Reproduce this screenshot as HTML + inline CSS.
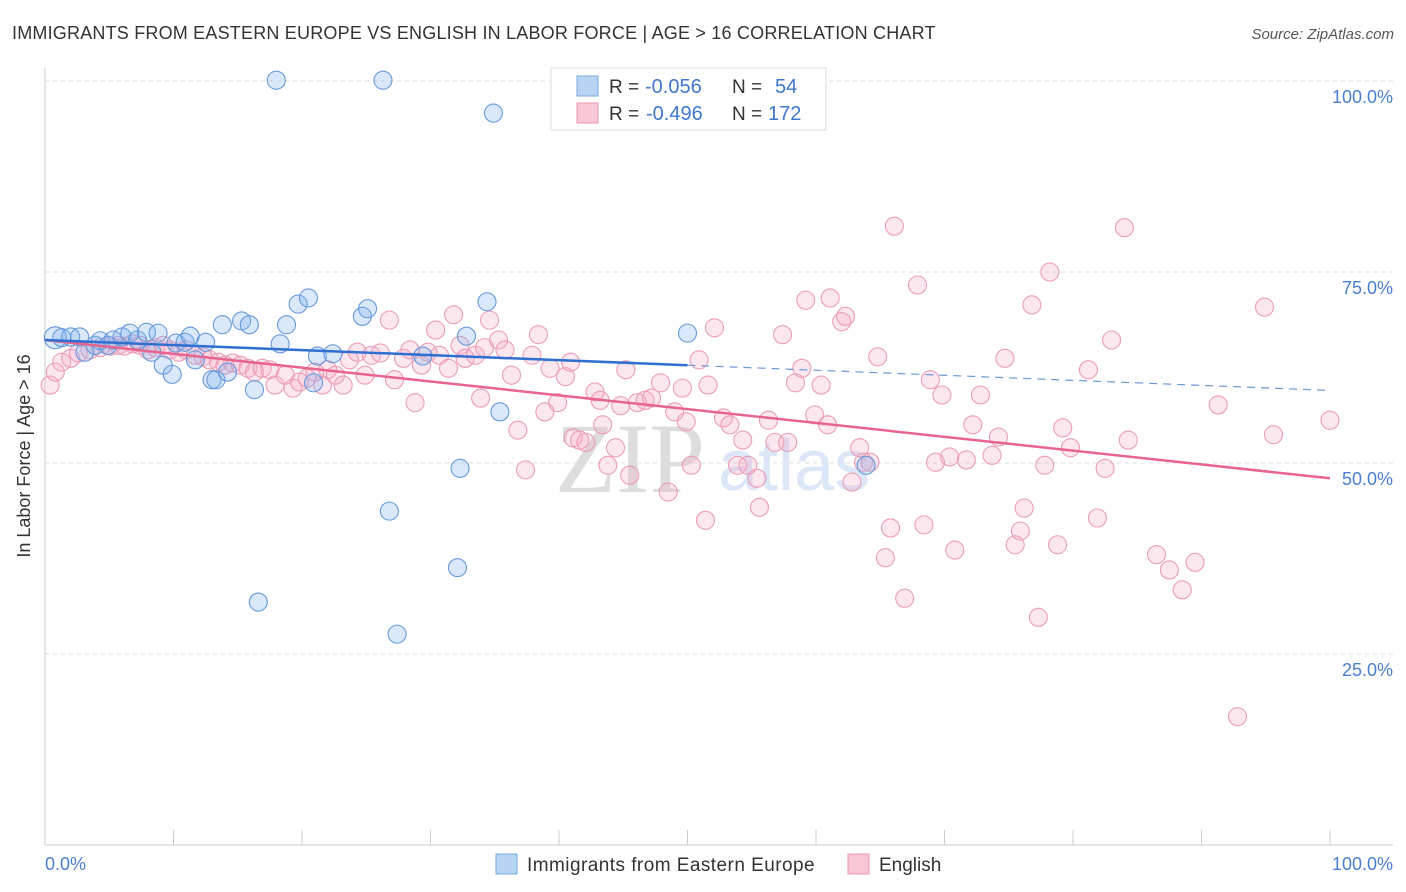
<!DOCTYPE html>
<html><head><meta charset="utf-8">
<style>
body{margin:0;background:#fff;font-family:"Liberation Sans",sans-serif;}
#wrap{position:relative;width:1406px;height:892px;overflow:hidden;}
</style></head>
<body>
<div id="wrap">
<svg id="chart" width="1406" height="892" xmlns="http://www.w3.org/2000/svg">
<text x="12" y="39" font-size="18" fill="#333" letter-spacing="0.2">IMMIGRANTS FROM EASTERN EUROPE VS ENGLISH IN LABOR FORCE | AGE &gt; 16 CORRELATION CHART</text>
<text x="1394" y="39" font-size="15" fill="#555" font-style="italic" text-anchor="end">Source: ZipAtlas.com</text>
<g id="grid"></g>
<text x="555" y="492" font-size="100" fill="#ddd" font-family="Liberation Serif">ZIP</text>
<text x="718" y="490" font-size="72" fill="#dbe7f7">atlas</text>
<line x1="45" y1="68" x2="45" y2="845" stroke="#ccc"/>
<line x1="45" y1="845" x2="1393" y2="845" stroke="#ccc"/>
<g id="ticks"></g>
<g id="ylabels"></g>
<g id="pink"></g>
<g id="blue"></g>
<g id="trends"></g>
<text x="30" y="456" font-size="18" fill="#333" text-anchor="middle" transform="rotate(-90 30 456)">In Labor Force | Age &gt; 16</text>
<text x="45" y="870" font-size="18" fill="#4a7fd0">0.0%</text>
<text x="1393" y="870" font-size="18" fill="#4a7fd0" text-anchor="end">100.0%</text>
<g>
<rect x="551" y="68" width="275" height="62" fill="#fff" stroke="#ddd"/>
<rect x="577" y="76" width="21" height="20" fill="#b9d3f3" stroke="#7aa8e0"/>
<rect x="577" y="103" width="21" height="20" fill="#f9c6d5" stroke="#eb97b1"/>
<text x="609" y="93" font-size="19" fill="#333">R =</text>
<text x="645" y="93" font-size="20" fill="#3f77cc">-0.056</text>
<text x="732" y="93" font-size="19" fill="#333">N =</text>
<text x="775" y="93" font-size="20" fill="#3f77cc">54</text>
<text x="609" y="120" font-size="19" fill="#333">R =</text>
<text x="646" y="120" font-size="20" fill="#3f77cc">-0.496</text>
<text x="732" y="120" font-size="19" fill="#333">N =</text>
<text x="768" y="120" font-size="20" fill="#3f77cc">172</text>
</g>
<g>
<rect x="496" y="854" width="21" height="20" fill="#b9d3f3" stroke="#7aa8e0"/>
<text x="527" y="871" font-size="19" fill="#333" letter-spacing="0.45">Immigrants from Eastern Europe</text>
<rect x="848" y="854" width="21" height="20" fill="#f9c6d5" stroke="#eb97b1"/>
<text x="879" y="871" font-size="19" fill="#333">English</text>
</g>
</svg>
</div>
<script>
const yTicks=[25,50,75,100];
const yTickLabels=["25.0%","50.0%","75.0%","100.0%"];
const xTicks=[0,10,20,30,40,50,60,70,80,90,100];
const blueX=[0.8,1.3,2.0,2.7,3.1,3.9,4.3,4.9,5.3,6.0,6.6,7.2,7.9,8.3,8.8,9.2,9.9,10.2,10.9,11.3,11.7,12.5,13.0,13.3,13.8,14.2,15.3,15.9,16.3,16.6,18.0,18.3,18.8,19.7,20.5,20.9,21.2,22.4,24.7,25.1,26.3,26.8,27.4,29.4,32.1,32.3,32.8,34.4,34.9,35.4,50.0,63.9];
const blueY=[66.4,66.4,66.5,66.5,64.5,65.4,66.0,65.4,66.1,66.5,67.0,66.1,67.1,64.5,67.0,62.8,61.6,65.7,65.8,66.6,63.5,65.8,60.9,60.9,68.1,61.9,68.6,68.1,59.6,31.8,100.1,65.6,68.1,70.8,71.6,60.5,64.0,64.3,69.2,70.2,100.1,43.7,27.6,64.0,36.3,49.3,66.6,71.1,95.8,56.7,67.0,49.7];
const pinkX=[0.4,0.8,1.3,2.0,2.6,3.5,4.3,5.1,5.7,6.2,6.8,7.4,8.0,8.6,9.2,9.7,10.4,11.0,11.7,12.3,12.8,13.5,14.0,14.6,15.2,15.8,16.3,16.9,17.5,17.9,18.7,19.3,19.8,20.4,21.0,21.6,22.0,22.6,23.2,23.7,24.3,24.9,25.4,26.1,26.8,27.2,27.9,28.4,28.8,29.3,29.8,30.4,30.7,31.4,31.8,32.3,32.7,33.5,33.9,34.2,34.6,35.3,35.8,36.3,36.8,37.4,37.9,38.4,38.9,39.3,39.9,40.5,40.9,41.1,41.6,42.1,42.8,43.2,43.4,43.8,44.4,44.8,45.2,45.5,46.1,46.7,47.2,47.9,48.5,49.0,49.6,49.9,50.3,50.9,51.4,51.6,52.1,52.8,53.3,53.9,54.3,54.7,55.4,55.6,56.3,56.8,57.4,57.8,58.4,58.9,59.2,59.9,60.4,60.9,61.1,62.0,62.3,62.8,63.4,63.7,64.2,64.8,65.4,65.8,66.1,66.9,67.9,68.4,68.9,69.3,69.8,70.4,70.8,71.7,72.2,72.8,73.7,74.2,74.7,75.5,75.9,76.2,76.8,77.3,77.8,78.2,78.8,79.2,79.8,81.2,81.9,82.5,83.0,84.0,84.3,86.5,87.5,88.5,89.5,91.3,92.8,94.9,95.6,100];
const pinkY=[60.2,61.9,63.2,63.7,64.4,64.8,65.1,65.3,65.4,65.3,65.6,65.4,64.8,65.1,65.4,64.8,64.5,64.8,64.1,63.9,63.5,63.2,62.8,63.1,62.8,62.4,61.9,62.4,62.2,60.2,61.5,59.8,60.6,61.1,61.9,60.2,62.2,61.5,60.2,63.5,64.5,61.5,64.1,64.4,68.7,60.9,63.7,64.8,57.9,62.8,64.5,67.4,64.1,62.4,69.4,65.4,63.7,64.1,58.5,65.1,68.7,66.1,64.8,61.5,54.3,49.1,64.1,66.8,56.7,62.4,57.9,61.3,63.2,53.3,53.0,52.7,59.3,58.2,55.0,49.7,52.0,57.5,62.2,48.4,57.9,58.2,58.5,60.5,46.2,56.7,59.8,55.4,49.7,63.5,42.5,60.2,67.7,55.9,55.0,49.7,53.0,49.7,48.0,44.2,55.6,52.7,66.8,52.7,60.5,62.4,71.3,56.3,60.2,55.0,71.6,68.5,69.2,47.5,52.0,50.1,50.1,63.9,37.6,41.5,81.0,32.3,73.3,41.9,60.9,50.1,58.9,50.8,38.6,50.4,55.0,58.9,51.0,53.4,63.7,39.3,41.1,44.1,70.7,29.8,49.7,75.0,39.3,54.6,52.0,62.2,42.8,49.3,66.1,80.8,53.0,38.0,36.0,33.4,37.0,57.6,16.8,70.4,53.7,55.6];
const blueTrend=[66.1,59.5];   // y at x=0 and x=100
const pinkTrend=[66.1,48.0];
const blueSolidEnd=50;

const NS="http://www.w3.org/2000/svg";
const sx=v=>45+v*12.85;
const sy=v=>845-v*7.64;
function mk(tag,attrs,parent){const e=document.createElementNS(NS,tag);for(const k in attrs)e.setAttribute(k,attrs[k]);parent.appendChild(e);return e;}
const grid=document.getElementById('grid'),yl=document.getElementById('ylabels'),tk=document.getElementById('ticks');
yTicks.forEach((t,i)=>{
  const l=mk('line',{x1:45,x2:1393,y1:sy(t),y2:sy(t),stroke:'#ddd','stroke-dasharray':'4 4'},grid);
  
  
  const tx=mk('text',{x:1393,y:sy(t)+22,'font-size':18,fill:'#4a7fd0','text-anchor':'end'},yl);
  tx.textContent=yTickLabels[i];
  
  
});
xTicks.forEach(t=>{
  const l=mk('line',{x1:sx(t),x2:sx(t),y1:830,y2:845,stroke:'#ccc'},tk);
  
  
});
const pg=document.getElementById('pink');
pinkX.forEach((x,i)=>{
  const c=mk('circle',{cx:sx(x),cy:sy(pinkY[i]),r:9,fill:'rgba(246,170,196,0.28)',stroke:'#eb9cb6','stroke-width':1.1},pg);
  
  
});
const bg=document.getElementById('blue');
blueX.forEach((x,i)=>{
  const c=mk('circle',{cx:sx(x),cy:sy(blueY[i]),r:(i<1?11:9),fill:'rgba(130,178,238,0.3)',stroke:'#6699db','stroke-width':1.1},bg);
  
  
});
const tr=document.getElementById('trends');
const by=x=>blueTrend[0]+(blueTrend[1]-blueTrend[0])*x/100;
const py=x=>pinkTrend[0]+(pinkTrend[1]-pinkTrend[0])*x/100;
let a=mk('line',{x1:sx(0),y1:sy(py(0)),x2:sx(100),y2:sy(py(100)),stroke:'#e8648f','stroke-width':2.5},tr);


a=mk('line',{x1:sx(0),y1:sy(by(0)),x2:sx(blueSolidEnd),y2:sy(by(blueSolidEnd)),stroke:'#2f6fd0','stroke-width':2.5},tr);


a=mk('line',{x1:sx(blueSolidEnd),y1:sy(by(blueSolidEnd)),x2:sx(100),y2:sy(by(100)),stroke:'#6a98d8','stroke-width':1.2,'stroke-dasharray':'8 6'},tr);


</script>
</body></html>
